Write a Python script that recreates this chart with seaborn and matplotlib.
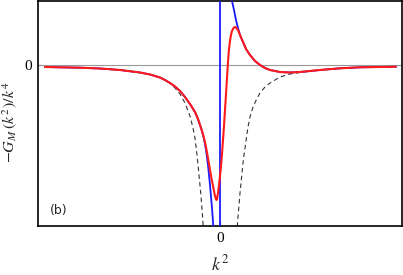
import numpy as np
import pandas as pd
import matplotlib
matplotlib.use("Agg")
import matplotlib.pyplot as plt
import seaborn as sns

sns.set_theme(style="white")
plt.rcParams['font.family'] = ['Liberation Serif', 'DejaVu Serif']
plt.rcParams['mathtext.fontset'] = 'stix'

# Full function (red)
red_x = [-175, -160, -140, -120, -100, -80, -70, -60, -55, -50, -45, -40, -35, -30, -25,
         -22, -20, -18, -16, -14, -12, -10, -8, -6, -5, -4, -3.5, -3, -2, -1, 0, 1, 2, 3,
         4, 5, 6, 7, 8, 9, 10, 11, 12, 13, 14, 15, 16, 18, 20, 23, 26, 30, 35, 40, 45,
         50, 60, 70, 80, 100, 120, 140, 160, 176]
red_y = [-2, -2.3, -2.7, -3.5, -5, -7.5, -9.5, -12.5, -15, -18, -21.5, -26, -32, -39, -47,
         -54, -60, -66, -73, -82, -93, -105, -116, -126, -131, -134, -135, -134, -128, -120, -111, -101, -89, -75,
         -61, -45, -29, -13, 3, 16, 24, 30, 34, 36, 37.5, 38, 37.5, 35, 30, 23, 16, 10, 4, 0, -3,
         -5, -7, -7.5, -7, -5, -3.3, -2.3, -2, -1.7]

# Pole approximation (blue)
blue_x = [-175, -160, -140, -120, -100, -80, -70, -60, -55, -50, -45, -40, -35, -30, -25,
          -22, -20, -18, -16, -14, -12, -10, -8, -6.7, -5, -3, -1, 0, 0, 1, 3, 6, 9, 12, 14,
          16, 18, 20, 23, 26, 30, 35, 40, 45, 50, 60, 70, 80, 100, 120, 140, 160, 176]
blue_y = [-2, -2.3, -2.7, -3.5, -5, -7.5, -9.5, -12.5, -15, -18, -21.5, -26, -32, -39, -47,
          -54, -60, -66, -74, -85, -100, -120, -143, -161, -205, -330, -900, -1200, 1200, 768, 256, 128, 85, 64, 55,
          45, 37, 30, 23, 16, 10, 4, 0, -3, -5, -7, -7.5, -7, -5, -3.3, -2.3, -2, -1.7]

# Comparison curve (dashed), two branches
dash_left_x = [-175, -160, -140, -120, -100, -80, -70, -60, -55, -50, -45, -40, -35, -30,
               -27, -25, -23, -21, -19, -17, -16]
dash_left_y = [-2, -2.3, -2.7, -3.5, -5, -7.5, -9.5, -12.5, -15, -18, -23, -29, -38, -51,
               -63, -73, -90, -110, -131, -158, -185]
dash_right_x = [16.5, 17.5, 19, 20, 21.7, 23.3, 25, 26.7, 28, 30, 33, 36.7, 40, 45, 50,
                60, 70, 80, 90, 100, 120, 140, 160, 176]
dash_right_y = [-185, -158, -140, -128, -111, -95, -83, -71, -62, -52, -42, -34, -28, -22, -18,
                -12, -9, -7.5, -6, -5, -3.3, -2.3, -2, -1.7]

fig = plt.figure(figsize=(4.03, 2.75), dpi=100)
ax = fig.add_axes([38/403, 1 - 226/275, 364/403, 225/275])

ax.axhline(0, color='#9a9a9a', lw=0.8, zorder=1)

sns.lineplot(x=dash_left_x, y=dash_left_y, ax=ax, sort=False, estimator=None,
             color='#333333', lw=0.8, zorder=2).lines[-1].set_dashes([4, 3])
sns.lineplot(x=dash_right_x, y=dash_right_y, ax=ax, sort=False, estimator=None,
             color='#333333', lw=0.8, zorder=2).lines[-1].set_dashes([4, 3])
sns.lineplot(x=blue_x, y=blue_y, ax=ax, sort=False, estimator=None,
             color='#1a1aff', lw=1.3, zorder=3)
sns.lineplot(x=red_x, y=red_y, ax=ax, sort=False, estimator=None,
             color='#ff1a1a', lw=1.5, zorder=4)

ax.set_xlim(-182, 182)
ax.set_ylim(-161, 64)
ax.set_xticks([0])
ax.set_xticklabels(['0'])
ax.set_yticks([0])
ax.set_yticklabels(['0'])
ax.tick_params(axis='both', which='both', direction='in', length=3, width=0.8,
               labelsize=11, colors='black', pad=4, bottom=True, left=True)
for s in ax.spines.values():
    s.set_color('black')
    s.set_linewidth(1.2)

ax.set_xlabel(r'$k^2$', fontsize=13, labelpad=7)
ax.set_ylabel(r'$-G_M\,(k^2)/k^4$', fontsize=11.5)
ax.yaxis.set_label_coords(-0.052, 0.46)
ax.text(0.033, 0.07, '(b)', transform=ax.transAxes, fontsize=9,
        family='DejaVu Sans', va='center', ha='left')

fig.savefig('out.png', dpi=100)
